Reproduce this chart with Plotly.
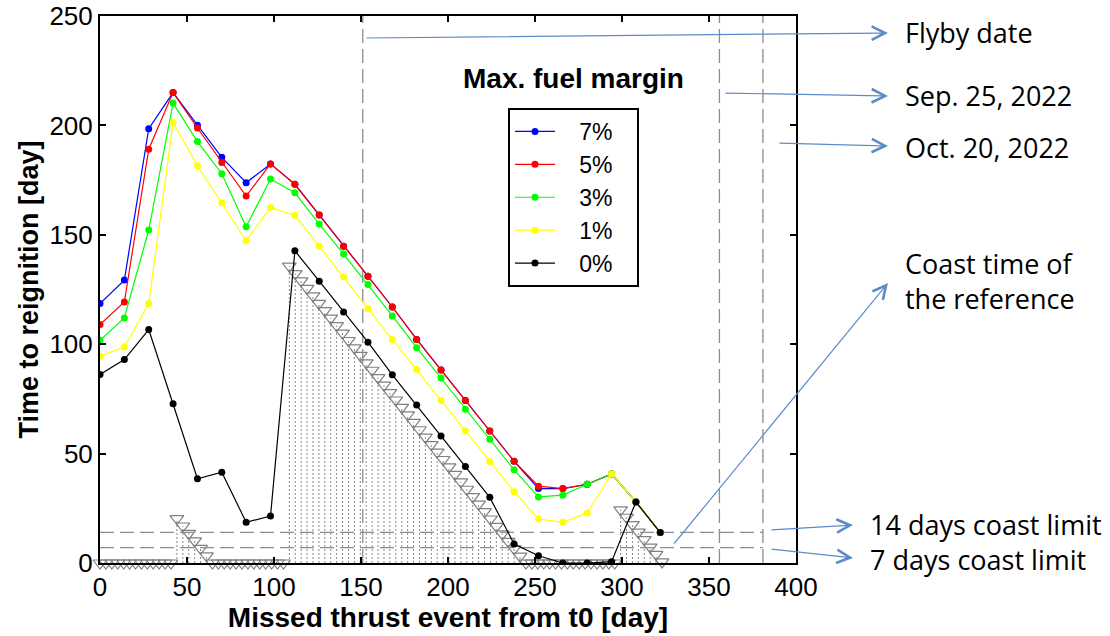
import plotly.graph_objects as go

# ---------------- data ----------------
miss_day = [0, 14, 28, 42, 56, 70, 84, 98, 112, 126, 140, 154, 168, 182,
            196, 210, 224, 238, 252, 266, 280, 294, 308, 322]

m7 = [118.6, 129.3, 198.5, 215.0, 200.1, 185.4, 173.8, 182.4, 173.1, 159.0, 144.8, 131.1,
      117.0, 102.2, 88.2, 74.3, 60.3, 46.5, 34.0, 34.0, 36.0, 40.7, 27.9, 13.9]
m5 = [109.0, 119.3, 189.1, 215.0, 198.8, 183.1, 167.7, 182.4, 173.1, 159.0, 144.8, 131.1,
      117.0, 102.2, 88.2, 74.3, 60.3, 46.5, 35.1, 34.0, 36.0, 40.7, 27.9, 13.9]
m3 = [101.8, 112.0, 152.2, 210.2, 192.6, 177.9, 153.7, 175.5, 169.2, 154.9, 141.2, 127.3,
      112.9, 98.4, 84.5, 70.3, 56.6, 42.6, 30.2, 31.0, 36.0, 40.7, 27.9, 13.9]
m1 = [94.5, 98.7, 118.6, 201.3, 181.6, 164.6, 147.3, 162.5, 158.9, 144.8, 130.8, 116.3,
      102.1, 88.4, 74.3, 60.4, 46.4, 32.6, 20.1, 18.6, 22.9, 40.7, 27.9, 13.9]
m0 = [86.2, 93.0, 106.7, 72.8, 38.5, 41.5, 18.6, 21.5, 142.7, 128.8, 114.7, 100.9,
      86.0, 72.2, 58.1, 44.1, 30.0, 8.7, 3.3, 0.0, 0.0, 0.6, 27.9, 13.9]

series_names = ["7%", "5%", "3%", "1%", "0%"]
series_colors = ["#0000ff", "#ff0000", "#00ff00", "#ffff00", "#000000"]

# coast time of the reference (triangles with dotted stems)
coast_x = [0, 3.4, 6.8, 10.2, 13.6, 17.0, 20.4, 23.8, 27.2, 30.6, 34.0, 37.4, 40.8,
           44.2, 47.6, 51.0, 54.4, 57.8, 61.2,
           64.6, 68.0, 71.4, 74.8, 78.2, 81.6, 85.0, 88.4, 91.8, 95.2, 98.6, 102.0, 105.4,
           108.8, 112.2, 115.6, 119.0, 122.4, 125.8, 129.2, 132.6, 136.0, 139.4, 142.8, 146.2,
           149.6, 153.0, 156.4, 159.8, 163.2, 166.6, 170.0, 173.4, 176.8, 180.2, 183.6, 187.0,
           190.4, 193.8, 197.2, 200.6, 204.0, 207.4, 210.8, 214.2, 217.6, 221.0, 224.4, 227.8,
           231.2, 234.6, 238.0, 241.4,
           244.8, 248.2, 251.6, 255.0, 258.4, 261.8, 265.2, 268.6, 272.0, 275.4, 278.8, 282.2,
           285.6, 289.0, 292.4, 295.8,
           299.2, 302.6, 306.0, 309.4, 312.8, 316.2, 319.6, 323.0]
coast_y = [0, 0, 0, 0, 0, 0, 0, 0, 0, 0, 0, 0, 0,
           20.3, 16.9, 13.5, 10.1, 6.7, 3.3,
           0, 0, 0, 0, 0, 0, 0, 0, 0, 0, 0, 0, 0,
           135.7, 132.3, 128.9, 125.5, 122.1, 118.7, 115.3, 111.9, 108.5, 105.1, 101.7, 98.3,
           94.9, 91.5, 88.1, 84.7, 81.3, 77.9, 74.5, 71.1, 67.7, 64.3, 60.9, 57.5,
           54.1, 50.7, 47.3, 43.9, 40.5, 37.1, 33.7, 30.3, 26.9, 23.5, 20.1, 16.7,
           13.3, 9.9, 6.5, 3.1,
           0, 0, 0, 0, 0, 0, 0, 0, 0, 0, 0, 0,
           0, 0, 0, 0,
           24.3, 20.9, 17.5, 14.1, 10.7, 7.3, 3.9, 0.5]

date_lines = [151, 356, 381]          # flyby, Sep 25 2022, Oct 20 2022
coast_limits = [14, 7]
limit_end = 381

x_ticks = [0, 50, 100, 150, 200, 250, 300, 350, 400]
y_ticks = [0, 50, 100, 150, 200, 250]

# figure size and plot-area geometry in pixels
W, H = 1110, 636
PL, PR, PT, PB = 100, 796, 16, 563
PW, PH = PR - PL, PB - PT

# ---------------- figure ----------------
fig = go.Figure()

# dotted stems
stem_x, stem_y = [], []
for xv, yv in zip(coast_x, coast_y):
    stem_x += [xv, xv, None]
    stem_y += [0, yv, None]
fig.add_trace(go.Scatter(x=stem_x, y=stem_y, mode="lines",
                         line=dict(color="#8a8a8a", width=1, dash="2px,2px"),
                         showlegend=False, hoverinfo="skip"))
fig.add_trace(go.Scatter(x=coast_x, y=coast_y, mode="markers",
                         marker=dict(symbol="triangle-down-open", size=12,
                                     color="#808080", line=dict(width=1.2, color="#808080")),
                         showlegend=False, cliponaxis=False))

# dashed reference lines
for xv in date_lines:
    fig.add_trace(go.Scatter(x=[xv, xv], y=[0, 250], mode="lines",
                             line=dict(color="#8c8c8c", width=1.3, dash="14px,6px"),
                             showlegend=False, hoverinfo="skip"))
for yv in coast_limits:
    fig.add_trace(go.Scatter(x=[0, limit_end], y=[yv, yv], mode="lines",
                             line=dict(color="#8c8c8c", width=1.3, dash="14px,6px"),
                             showlegend=False, hoverinfo="skip"))

NB = "\u00a0"
for name, col, vals in zip(series_names, series_colors, [m7, m5, m3, m1, m0]):
    fig.add_trace(go.Scatter(x=miss_day, y=vals, mode="lines+markers",
                             name=NB * 3 + name + NB * 3,
                             legendgroup=name,
                             line=dict(color=col, width=1.2),
                             marker=dict(symbol="circle", size=7, color=col)))

axis_font = dict(family="Arial, Liberation Sans, sans-serif", size=26, color="black")
fig.update_xaxes(range=[0, 400], tickvals=x_ticks, ticks="inside", ticklen=6, tickwidth=1.5,
                 tickcolor="black", showline=True, linewidth=2, linecolor="black",
                 mirror="ticks", showgrid=False, zeroline=False, tickfont=axis_font,
                 automargin=False,
                 title=dict(text="<b>Missed thrust event from t0 [day]</b>",
                            font=dict(family="Arial, Liberation Sans, sans-serif", size=28,
                                      color="black"), standoff=0))
fig.update_yaxes(range=[0, 250], tickvals=y_ticks, ticks="inside", ticklen=6, tickwidth=1.5,
                 tickcolor="black", showline=True, linewidth=2, linecolor="black",
                 mirror="ticks", showgrid=False, zeroline=False, tickfont=axis_font,
                 automargin=False,
                 title=dict(text="<b>Time to reignition [day]</b>",
                            font=dict(family="Arial, Liberation Sans, sans-serif", size=27,
                                      color="black"), standoff=3))

fig.update_layout(
    width=W, height=H,
    margin=dict(l=PL, r=W - PR, t=PT, b=H - PB, autoexpand=False),
    plot_bgcolor="white", paper_bgcolor="white",
    legend=dict(x=(508 - PL) / PW, y=(PB - 108) / PH, xanchor="left", yanchor="top",
                bgcolor="white", bordercolor="black", borderwidth=2,
                font=dict(family="Arial, Liberation Sans, sans-serif", size=23, color="black"),
                tracegroupgap=0, itemwidth=40),
)

anns = []
anns.append(dict(x=(573 - PL) / PW, y=(PB - 78) / PH, xref="paper", yref="paper",
                 xanchor="center", yanchor="middle",
                 showarrow=False, text="<b>Max. fuel margin</b>",
                 font=dict(family="Arial, Liberation Sans, sans-serif", size=28, color="black")))

arrow_col = "#5b8bc9"
# (head x px, head y px, tail dx, tail dy)
arrows = [(888, 33, -523, 5), (888, 96, -164, -3), (888, 146, -110, -3),
          (888, 283, -215, 262), (853, 525, -83, 5), (853, 558, -83, -9)]
for hx, hy, dx, dy in arrows:
    anns.append(dict(x=(hx - PL) / PW, y=(PB - hy) / PH, xref="paper", yref="paper",
                     ax=dx, ay=dy, axref="pixel", ayref="pixel", text="", showarrow=True,
                     arrowhead=5, arrowsize=2.2, arrowwidth=1.2, arrowcolor=arrow_col,
                     standoff=0))

label_font = dict(family="Open Sans, Lato, sans-serif", size=27, color="black")
labels = [(903, 33, "Flyby date"), (903, 96, "Sep. 25, 2022"), (903, 147, "Oct. 20, 2022"),
          (903, 281, "Coast time of<br>the reference"),
          (868, 524, "14 days coast limit"), (868, 559, "7 days coast limit")]
for lx, ly, txt in labels:
    anns.append(dict(x=(lx - PL) / PW, y=(PB - ly) / PH, xref="paper", yref="paper",
                     xanchor="left", yanchor="middle", align="left", showarrow=False,
                     text=txt, font=label_font))
fig.update_layout(annotations=anns)

fig.write_html("out.html", config={"displayModeBar": False},
               post_script="document.body.style.margin='0';document.body.style.padding='0';")
